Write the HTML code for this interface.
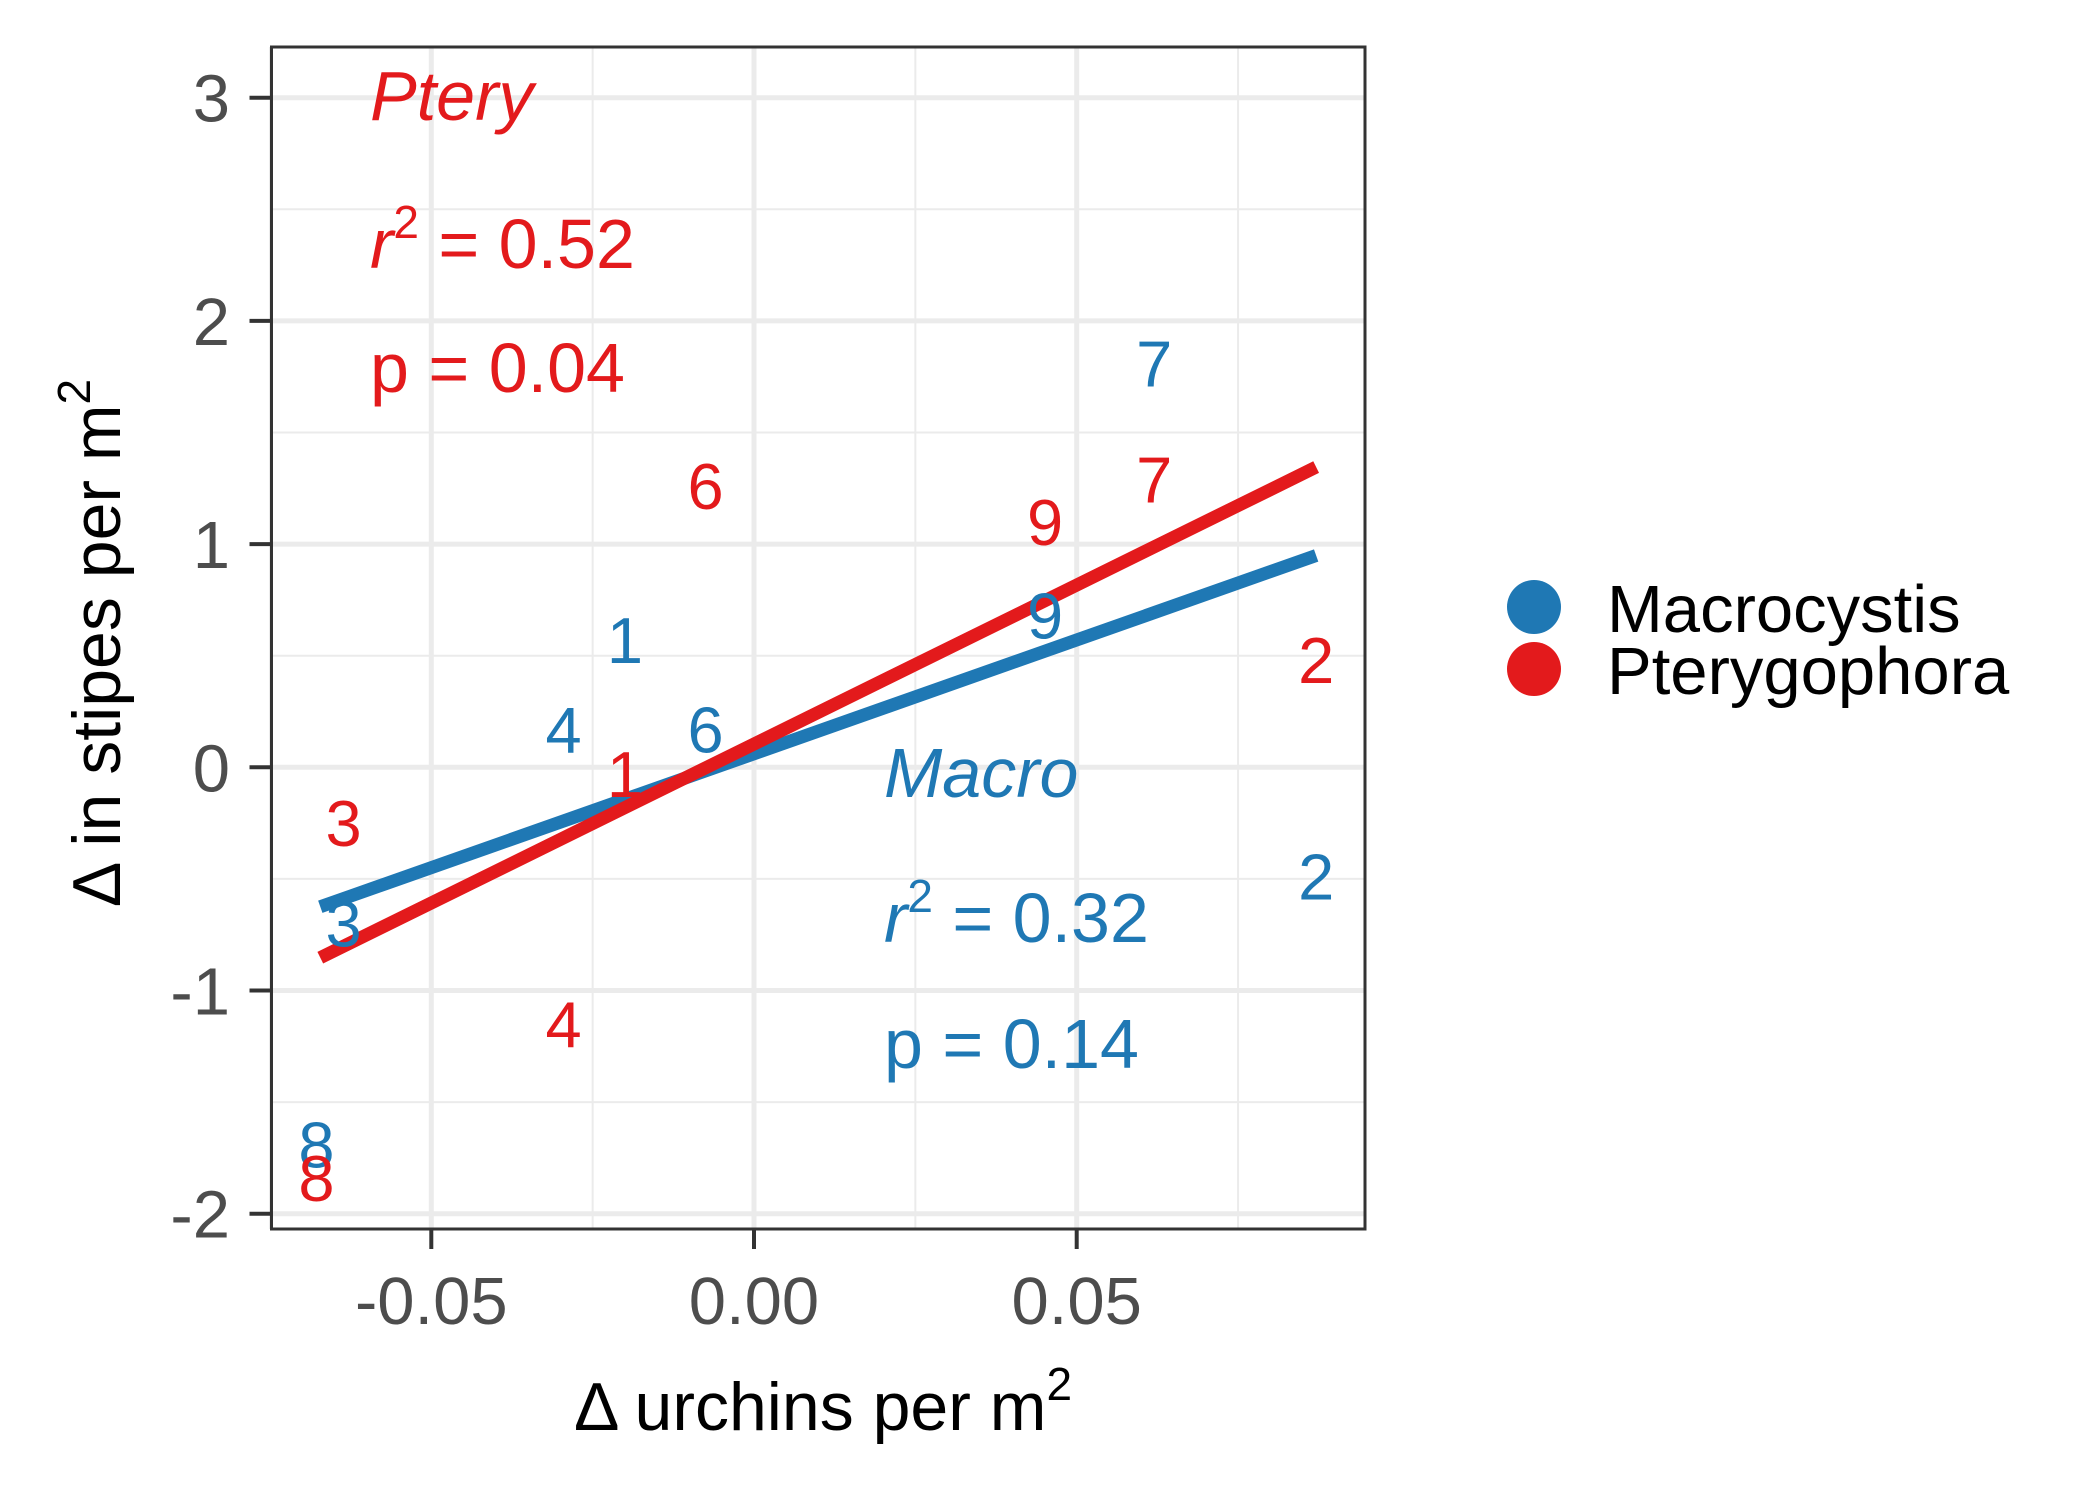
<!DOCTYPE html>
<html><head><meta charset="utf-8"><style>
body{margin:0;background:#fff}
svg text{font-family:"Liberation Sans",sans-serif}
</style></head><body>
<svg width="2100" height="1500" viewBox="0 0 2100 1500" xmlns="http://www.w3.org/2000/svg">
<g id="grid"></g>
<g id="lines"></g>
<g id="pts"></g>
<rect x="271.5" y="47" width="1093.5" height="1182" fill="none" stroke="#333" stroke-width="3"/>
<g id="axes"></g>
<text x="370" y="120" font-size="70" font-style="italic" fill="#e31a1c">Ptery</text>
<text x="370" y="268" font-size="70" fill="#e31a1c"><tspan font-style="italic">r</tspan><tspan font-size="46" dy="-30">2</tspan><tspan dy="30"> = 0.52</tspan></text>
<text x="370" y="392" font-size="70" fill="#e31a1c">p = 0.04</text>
<text x="884" y="797" font-size="70" font-style="italic" fill="#1f78b4">Macro</text>
<text x="884" y="942" font-size="70" fill="#1f78b4"><tspan font-style="italic">r</tspan><tspan font-size="46" dy="-30">2</tspan><tspan dy="30"> = 0.32</tspan></text>
<text x="884" y="1068" font-size="70" fill="#1f78b4">p = 0.14</text>
<text x="823" y="1430" font-size="68" text-anchor="middle" fill="#000">Δ urchins per m<tspan font-size="46" dy="-30">2</tspan></text>
<text transform="translate(120,643) rotate(-90)" font-size="68" text-anchor="middle" fill="#000">Δ in stipes per m<tspan font-size="46" dy="-30">2</tspan></text>
<g>
<circle cx="1534" cy="607" r="27" fill="#1f78b4"/>
<text x="1607" y="632" font-size="67">Macrocystis</text>
<circle cx="1534" cy="669" r="27" fill="#e31a1c"/>
<text x="1607" y="694" font-size="67">Pterygophora</text>
</g>
</svg>
<script>
const labels=["1","2","3","4","6","7","8","9"];
const xs=[-0.020,0.0871,-0.0636,-0.0295,-0.0075,0.062,-0.0678,0.0451];
const macroY=[0.57,-0.49,-0.70,0.17,0.17,1.81,-1.69,0.68];
const pteryY=[-0.03,0.48,-0.25,-1.15,1.26,1.29,-1.84,1.10];
const lineX=[-0.0672,0.0871];
const macroLineY=[-0.625,0.949];
const pteryLineY=[-0.853,1.345];
const xTicks=[-0.05,0,0.05];
const xTickLabels=["-0.05","0.00","0.05"];
const xMinor=[-0.075,-0.025,0.025,0.075];
const yTicks=[-2,-1,0,1,2,3];
const yMinor=[-1.5,-0.5,0.5,1.5,2.5];
const X=v=>754+v*6454, Y=v=>767.3-v*223.2;
const L0=271.5,R0=1365,T0=47,B0=1229;
const NS="http://www.w3.org/2000/svg";
function mk(t,a,p){const e=document.createElementNS(NS,t);for(const k in a)e.setAttribute(k,a[k]);p.appendChild(e);return e;}
const g=document.getElementById('grid'),ax=document.getElementById('axes');
xMinor.forEach(v=>{const e=mk('line',{x1:X(v),x2:X(v),y1:T0,y2:B0,stroke:'#ebebeb','stroke-width':2},g);});
yMinor.forEach(v=>{const e=mk('line',{x1:L0,x2:R0,y1:Y(v),y2:Y(v),stroke:'#ebebeb','stroke-width':2},g);});
xTicks.forEach((v,i)=>{const e=mk('line',{x1:X(v),x2:X(v),y1:T0,y2:B0,stroke:'#ebebeb','stroke-width':5},g);
const t=mk('line',{x1:X(v),x2:X(v),y1:B0,y2:B0+20,stroke:'#333','stroke-width':4},ax);
const l=mk('text',{x:X(v),y:1324,'font-size':67,'text-anchor':'middle',fill:'#4d4d4d'},ax);l.textContent=xTickLabels[i];});
yTicks.forEach(v=>{const e=mk('line',{x1:L0,x2:R0,y1:Y(v),y2:Y(v),stroke:'#ebebeb','stroke-width':5},g);
const t=mk('line',{x1:L0-22,x2:L0,y1:Y(v),y2:Y(v),stroke:'#333','stroke-width':4},ax);
const l=mk('text',{x:230,y:Y(v)+24,'font-size':67,'text-anchor':'end',fill:'#4d4d4d'},ax);l.textContent=String(v);});
const L=document.getElementById('lines');
[[macroLineY,'#1f78b4','macro-fit-line'],[pteryLineY,'#e31a1c','ptery-fit-line']].forEach(([ys,c,n])=>{const e=mk('line',{x1:X(lineX[0]),y1:Y(ys[0]),x2:X(lineX[1]),y2:Y(ys[1]),stroke:c,'stroke-width':13},L);});
const P=document.getElementById('pts');
labels.forEach((s,i)=>{
const a=mk('text',{x:X(xs[i]),y:Y(macroY[i])+23,'font-size':65,'text-anchor':'middle',fill:'#1f78b4'},P);a.textContent=s;
const b=mk('text',{x:X(xs[i]),y:Y(pteryY[i])+23,'font-size':65,'text-anchor':'middle',fill:'#e31a1c'},P);b.textContent=s;});
</script>
</body></html>
